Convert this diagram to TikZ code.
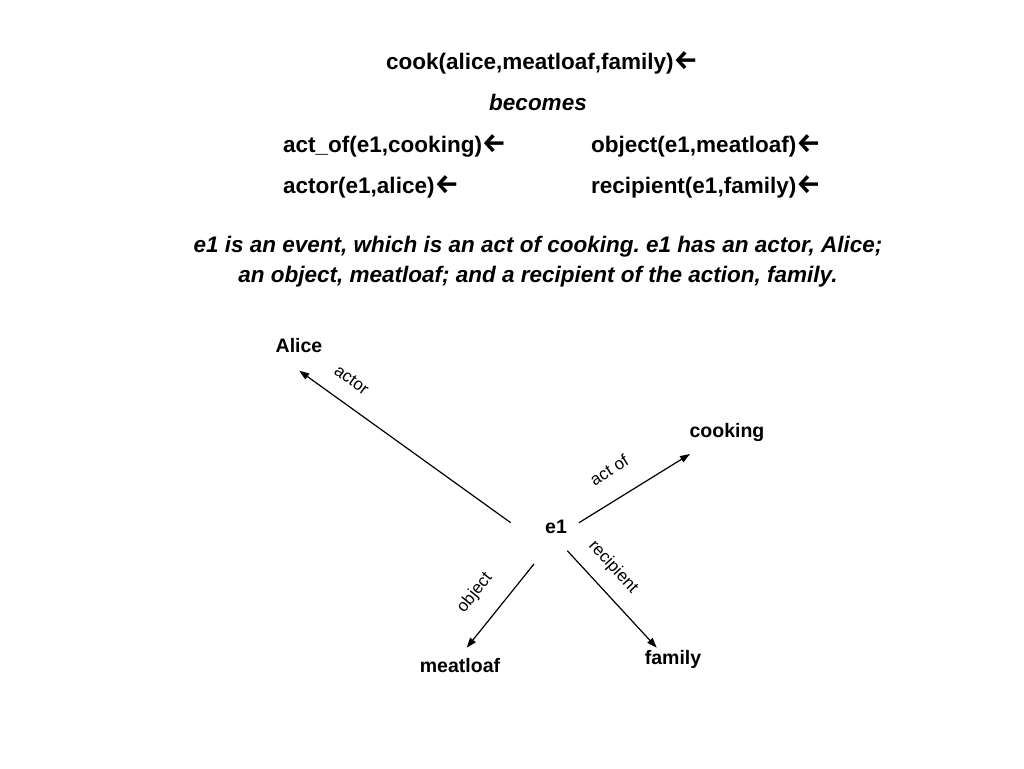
\documentclass[tikz,border=0pt]{standalone}
\usepackage{fontspec}
\setmainfont{Liberation Sans}
\newfontfamily\arrowfont{Fira Sans}
\usetikzlibrary{arrows.meta}

\newcommand{\larr}{{\arrowfont\upshape\bfseries\fontsize{27}{27}\selectfont ←}}

\tikzset{
    clause/.style={font=\fontsize{22.5}{27}\selectfont\bfseries, inner sep=0pt},
    gloss/.style={font=\fontsize{22.5}{27}\selectfont\bfseries\itshape, inner sep=0pt},
    concept/.style={font=\fontsize{19.5}{23}\selectfont\bfseries, inner sep=0pt},
    rel/.style={font=\fontsize{17}{20}\selectfont, inner sep=0pt},
    link/.style={-{Triangle[length=10pt,width=7pt]}, line width=1.2pt},
}

\begin{document}
\frenchspacing
\begin{tikzpicture}[x=1pt, y=-1pt]
    \useasboundingbox[fill=white] (0,0) rectangle (1024,768);

    % clauses
    \node[clause, anchor=base] (cook) at (542, 70) {cook(alice,meatloaf,family)\larr};
    \node[gloss, anchor=base] (becomes) at (538, 110) {becomes};
    \node[clause, anchor=base west] (actof) at (283, 152) {act\_of(e1,cooking)\larr};
    \node[clause, anchor=base west] (object) at (591, 152) {object(e1,meatloaf)\larr};
    \node[clause, anchor=base west] (actor) at (283, 193) {actor(e1,alice)\larr};
    \node[clause, anchor=base west] (recip) at (591, 193) {recipient(e1,family)\larr};

    \node[gloss, anchor=base] (desca) at (538, 252) {e1 is an event, which is an act of cooking. e1 has an actor, Alice;};
    \node[gloss, anchor=base] (descb) at (538, 282) {an object, meatloaf; and a recipient of the action, family.};

    %%%%%%%%%%%%%%%%%%%%%%%%%%%%%%%%%%%%%%%%%%%%%%%%%%%%%%

    \node[concept, anchor=base] (e1) at (556, 533) {e1};
    \node[concept, anchor=base] (alice) at (299, 352) {Alice};
    \node[concept, anchor=base] (cooking) at (727, 437) {cooking};
    \node[concept, anchor=base] (meatloaf) at (460, 672) {meatloaf};
    \node[concept, anchor=base] (family) at (673, 664) {family};

    \coordinate (e1-actor) at (510.7, 522.7);
    \coordinate (e1-actof) at (579, 522.7);
    \coordinate (e1-object) at (534, 564);
    \coordinate (e1-recip) at (567.3, 550.7);
    \coordinate (alice-tip) at (299.3, 370.7);
    \coordinate (cooking-tip) at (690, 454);
    \coordinate (meatloaf-tip) at (466.7, 647.7);
    \coordinate (family-tip) at (656.7, 647.7);

    \draw[link] (e1-actor) -- (alice-tip);
    \draw[link] (e1-actof) -- (cooking-tip);
    \draw[link] (e1-object) -- (meatloaf-tip);
    \draw[link] (e1-recip) -- (family-tip);

    \node[rel, rotate=-36] (lbl-actor) at (351.7, 380) {actor};
    \node[rel, rotate=32] (lbl-actof) at (609, 470) {act of};
    \node[rel, rotate=51] (lbl-object) at (475, 593) {object};
    \node[rel, rotate=-47.5] (lbl-recip) at (613, 567) {recipient};
\end{tikzpicture}
\end{document}
